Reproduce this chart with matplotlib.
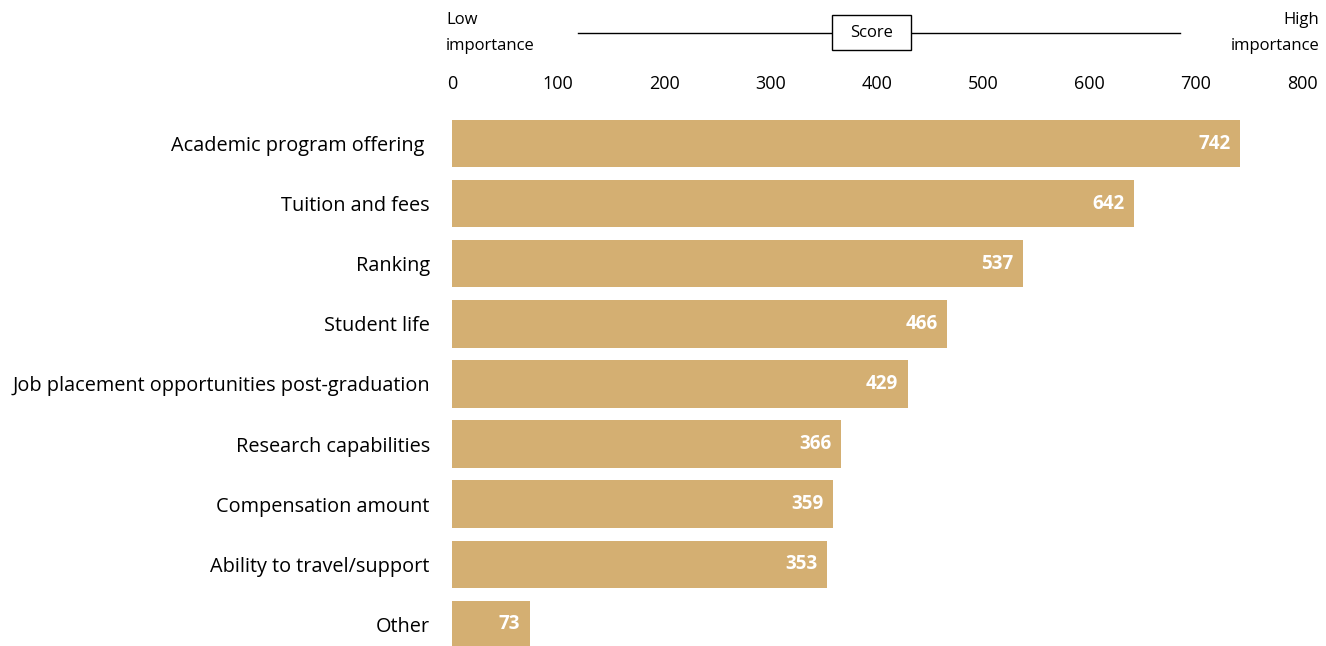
import matplotlib.pyplot as plt
from matplotlib.patches import Rectangle

categories = [
    "Academic program offering ",
    "Tuition and fees",
    "Ranking",
    "Student life",
    "Job placement opportunities post-graduation",
    "Research capabilities",
    "Compensation amount",
    "Ability to travel/support",
    "Other",
]
scores = [742, 642, 537, 466, 429, 366, 359, 353, 73]
ticks = [0, 100, 200, 300, 400, 500, 600, 700, 800]

bar_color = "#D4AF72"
plt.rcParams["font.family"] = ["Open Sans", "DejaVu Sans"]

W, H = 1326, 646
fig = plt.figure(figsize=(W / 100, H / 100), dpi=100)
ax = fig.add_axes([452 / W, 0.0, 850 / W, (H - 113.5) / H])

ypos = list(range(len(categories)))
ax.barh(ypos, scores, height=0.79, color=bar_color)

# value labels sit inside the end of each bar
for y, v in zip(ypos, scores):
    ax.text(v - 9, y, str(v), ha="right", va="center", color="white",
            fontsize=13.5, fontweight="bold")

ax.set_xlim(0, 800)
ax.set_ylim(8.36, -0.5)
ax.set_yticks(ypos)
ax.set_yticklabels(categories, fontsize=14.3)
ax.set_xticks(ticks)
ax.set_xticklabels([str(t) for t in ticks], fontsize=13)
ax.xaxis.tick_top()
ax.tick_params(axis="x", length=0, pad=15)
ax.tick_params(axis="y", length=0, pad=16)
for s in ax.spines.values():
    s.set_visible(False)

# header: scale direction with a "Score" box on a line
fig.text(446 / W, 1 - 12 / H, "Low\nimportance", ha="left", va="top",
         fontsize=12, linespacing=1.85)
fig.text(1319 / W, 1 - 12 / H, "High\nimportance", ha="right", va="top",
         fontsize=12, linespacing=1.85)
line_y = 1 - 33 / H
fig.add_artist(plt.Line2D([578 / W, 1180 / W], [line_y, line_y],
                          transform=fig.transFigure, color="black", lw=1))
fig.add_artist(Rectangle((832 / W, 1 - 50 / H), 79 / W, 35 / H,
                         transform=fig.transFigure, fc="white", ec="black",
                         lw=1, zorder=3))
fig.text(871.5 / W, line_y, "Score", ha="center", va="center", fontsize=12,
         zorder=4)

fig.savefig("out.png", dpi=100)
